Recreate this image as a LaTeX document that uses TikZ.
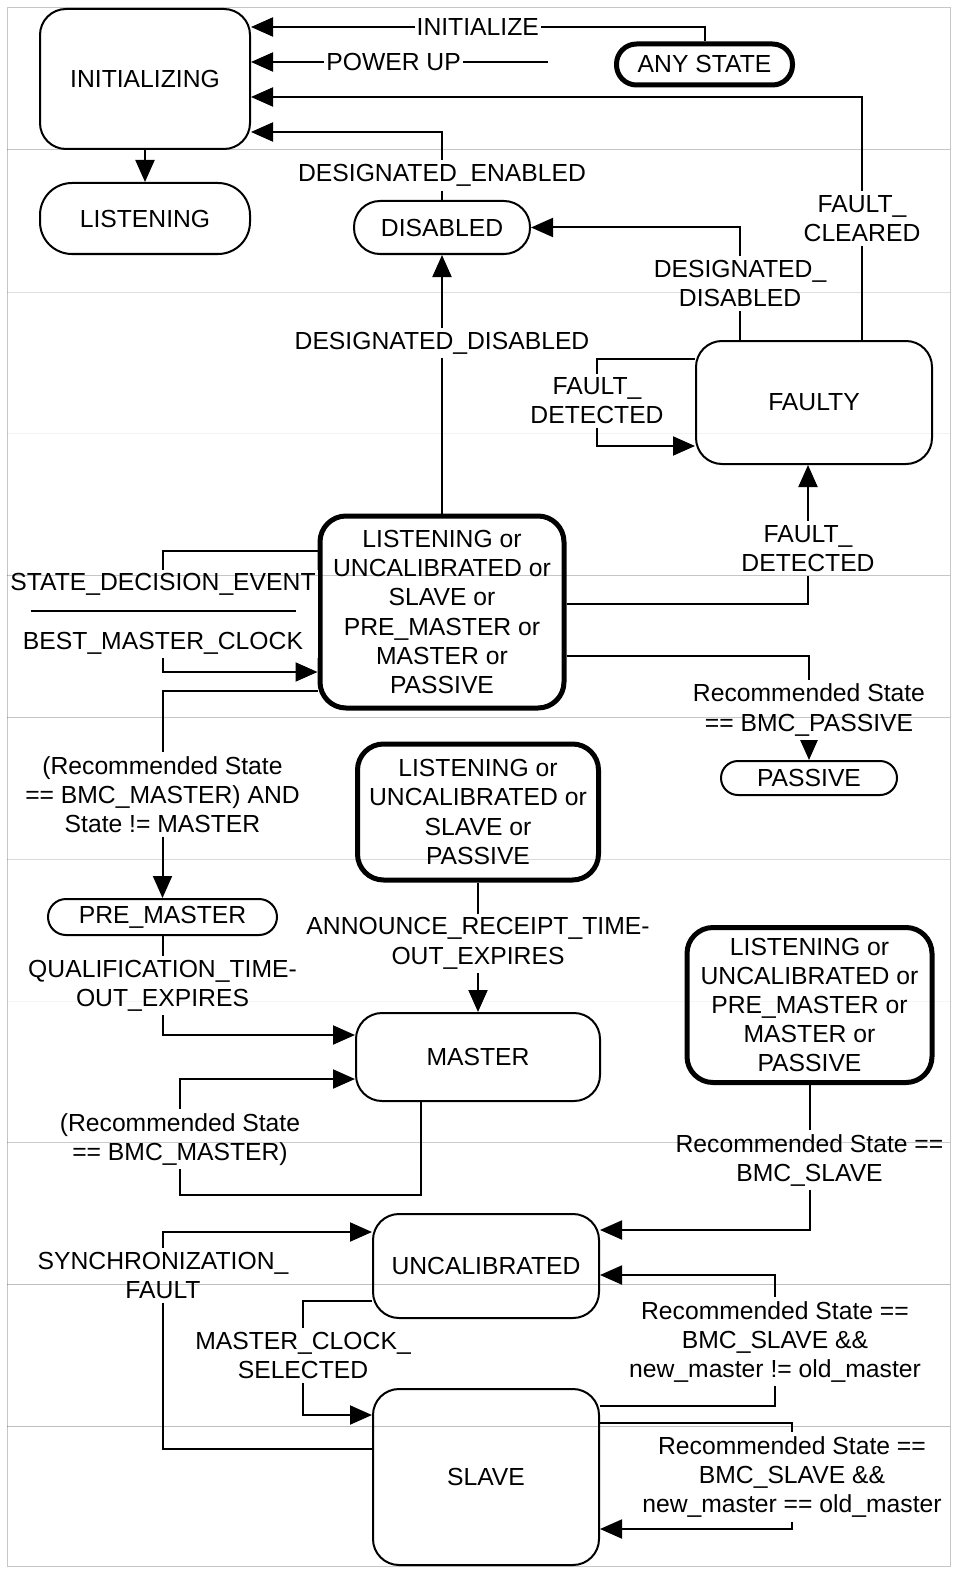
\documentclass[tikz,border=0pt]{standalone}
\usepackage{fontspec}
\setmainfont{Liberation Sans}
\usetikzlibrary{arrows.meta}
\tikzset{
	state/.style={draw, line width=1pt, rounded corners=13pt, align=center, inner sep=0pt},
	thickstate/.style={state, line width=2.5pt},
	lbl/.style={fill=white, inner xsep=1pt, inner ysep=2pt, align=center},
	arr/.style={line width=1pt, -{Triangle[length=11pt,width=9.5pt]}},
	tile/.style={line width=0.5pt}
}
\begin{document}
\begin{tikzpicture}[x=0.5pt, y=-0.5pt, every node/.append style={font=\fontsize{12.35pt}{14.6pt}\selectfont}]
		%\draw [help lines] (0,0) grid (960,1578);
		\useasboundingbox (0,0) rectangle (960,1578);
		\fill [white] (0,0) rectangle (960,1578);
		% states
			\node [state, minimum width=105pt, minimum height=70pt] (init) at (145,79) {INITIALIZING};
			\node [state, rounded corners=16pt, minimum width=105pt, minimum height=35.5pt] (listen) at (145,218.5) {LISTENING};
			\node [thickstate, rounded corners=10pt, minimum width=88pt, minimum height=20.5pt] (anystate) at (704.5,64.5) {ANY STATE};
			\node [state, minimum width=88pt, minimum height=26.5pt] (disabled) at (442,227.5) {DISABLED};
			\node [state, minimum width=118pt, minimum height=61.5pt] (faulty) at (814,402.5) {FAULTY};
			\node [thickstate, minimum width=122pt, minimum height=96pt] (anyA) at (442,612) {LISTENING or\\UNCALIBRATED or\\SLAVE or\\PRE\_MASTER or\\MASTER or\\PASSIVE};
			\node [state, rounded corners=8.5pt, minimum width=88pt, minimum height=17pt] (passive) at (809,778) {PASSIVE};
			\node [thickstate, minimum width=120.5pt, minimum height=68pt] (anyB) at (478,812) {LISTENING or\\UNCALIBRATED or\\SLAVE or\\PASSIVE};
			\node [state, rounded corners=9pt, minimum width=114.5pt, minimum height=18pt] (premaster) at (162.5,917) {PRE\_MASTER};
			\node [state, minimum width=122pt, minimum height=44pt] (master) at (478,1057) {MASTER};
			\node [thickstate, minimum width=122.5pt, minimum height=77.5pt] (anyC) at (809.5,1005) {LISTENING or\\UNCALIBRATED or\\PRE\_MASTER or\\MASTER or\\PASSIVE};
			\node [state, minimum width=113pt, minimum height=52pt] (uncal) at (486,1266) {UNCALIBRATED};
			\node [state, minimum width=113pt, minimum height=88pt] (slave) at (486,1477) {SLAVE};
		% into INITIALIZING
			\coordinate (powerup) at (548,62);
			\draw [arr] (anystate.north) |- node [lbl, pos=0.75] {INITIALIZE} (init.east |- 0,27);
			\draw [arr] (powerup) -- node [lbl, pos=0.52] {POWER UP} (init.east |- 0,62);
			\draw [arr] (faulty.north -| 862,0) |- node [lbl, pos=0.25] {FAULT\_\\CLEARED} (init.east |- 0,97);
			\draw [arr] (disabled.north) |- node [lbl, pos=0.18] {DESIGNATED\_ENABLED} (init.east |- 0,132);
			\draw [arr] (init) -- (listen);
		% into DISABLED
			\draw [arr] (anyA) -- node [lbl, pos=0.66] {DESIGNATED\_DISABLED} (disabled);
			\draw [arr] (faulty.north -| 740,0) |- node [lbl, pos=0.25] {DESIGNATED\_\\DISABLED} (disabled.east);
		% into FAULTY
			\draw [arr] (faulty.west |- 0,359) -- (597,359) |- node [lbl, pos=0.24] {FAULT\_\\DETECTED} (faulty.west |- 0,446);
			\draw [arr] (anyA.east |- 0,604) -| node [lbl, pos=0.7] {FAULT\_\\DETECTED} (faulty.south -| 808,0);
		% decision
			\draw [arr] (anyA.west |- 0,551) -- (163,551) |- node [lbl, pos=0.26] {STATE\_DECISION\_EVENT\\\rule[4pt]{132.5pt}{1pt}\\BEST\_MASTER\_CLOCK} (anyA.west |- 0,672);
			\draw [arr] (anyA.east |- 0,656) -| node [lbl, pos=0.76] {Recommended State\\== BMC\_PASSIVE} (passive);
			\draw [arr] (anyA.west |- 0,691) -| node [lbl, pos=0.75] {(Recommended State\\== BMC\_MASTER) AND\\State != MASTER} (premaster);
		% into MASTER
			\draw [arr] (premaster) |- node [lbl, pos=0.25] {QUALIFICATION\_TIME-\\OUT\_EXPIRES} (master.west |- 0,1035);
			\draw [arr] (anyB) -- node [lbl, pos=0.47] {ANNOUNCE\_RECEIPT\_TIME-\\OUT\_EXPIRES} (master);
			\draw [arr] (master.south -| 421,0) |- (180,1195) |- node [lbl, pos=0.24] {(Recommended State\\== BMC\_MASTER)} (master.west |- 0,1079);
		% into UNCALIBRATED and SLAVE
			\draw [arr] (anyC) |- node [lbl, pos=0.26] {Recommended State ==\\BMC\_SLAVE} (uncal.east |- 0,1230);
			\draw [arr] (slave.west |- 0,1449) -- (163,1449) |- node [lbl, pos=0.4] {SYNCHRONIZATION\_\\FAULT} (uncal.west |- 0,1232);
			\draw [arr] (uncal.west |- 0,1301) -- (303,1301) |- node [lbl, pos=0.24] {MASTER\_CLOCK\_\\SELECTED} (slave.west |- 0,1415);
			\draw [arr] (slave.east |- 0,1406) -- (775,1406) |- node [lbl, pos=0.245] {Recommended State ==\\BMC\_SLAVE \&\&\\new\_master != old\_master} (uncal.east |- 0,1275);
			\draw [arr] (slave.east |- 0,1423) -- (792,1423) |- node [lbl, pos=0.255] {Recommended State ==\\BMC\_SLAVE \&\&\\new\_master == old\_master} (slave.east |- 0,1529);
		% page tiles
		\begin{scope}[blend mode=multiply]
			\foreach \y/\c in {150/45,292/25,433/10,575/45,717/45,859/30,1001/8,1142/40,1284/50,1426/50}
				\draw [tile, gray!\c] (7,\y) -- (950,\y);
			\draw [tile, gray!45] (7,8) rectangle (950,1566);
		\end{scope}
	\end{tikzpicture}
\end{document}
